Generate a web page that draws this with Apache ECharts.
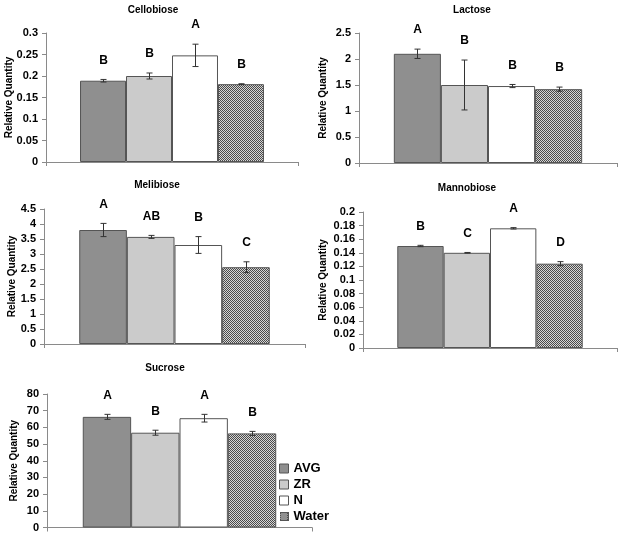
<!DOCTYPE html>
<html>
<head>
<meta charset="utf-8">
<script src="https://cdn.jsdelivr.net/npm/echarts@6/dist/echarts.min.js"></script>
<style>
html,body{margin:0;padding:0;background:#fff;}
#chart{width:619px;height:533px;}
</style>
</head>
<body>
<div id="chart"></div>
<script>
// ---- data ----
const groups = ['AVG', 'ZR', 'N', 'Water'];
const titles = ['Cellobiose', 'Lactose', 'Melibiose', 'Mannobiose', 'Sucrose'];

const cellobioseMeans = [0.189, 0.200, 0.248, 0.181];
const cellobioseErrs = [0.003, 0.007, 0.026, 0.001];
const cellobioseLetters = ['B', 'B', 'A', 'B'];

const lactoseMeans = [2.10, 1.50, 1.48, 1.42];
const lactoseErrs = [0.09, 0.48, 0.03, 0.04];
const lactoseLetters = ['A', 'B', 'B', 'B'];

const melibioseMeans = [3.80, 3.57, 3.30, 2.56];
const melibioseErrs = [0.22, 0.05, 0.28, 0.18];
const melibioseLetters = ['A', 'AB', 'B', 'C'];

const mannobioseMeans = [0.150, 0.140, 0.176, 0.124];
const mannobioseErrs = [0.001, 0.0005, 0.001, 0.003];
const mannobioseLetters = ['B', 'C', 'A', 'D'];

const sucroseMeans = [66.3, 56.8, 65.5, 56.4];
const sucroseErrs = [1.5, 1.5, 2.3, 1.2];
const sucroseLetters = ['A', 'B', 'A', 'B'];

const yMaxes = [0.3, 2.5, 4.5, 0.2, 80];
const yIntervals = [0.05, 0.5, 0.5, 0.02, 10];

// ---- layout / style ----
const panels = [
  {means: cellobioseMeans, errs: cellobioseErrs, letters: cellobioseLetters},
  {means: lactoseMeans, errs: lactoseErrs, letters: lactoseLetters},
  {means: melibioseMeans, errs: melibioseErrs, letters: melibioseLetters},
  {means: mannobioseMeans, errs: mannobioseErrs, letters: mannobioseLetters},
  {means: sucroseMeans, errs: sucroseErrs, letters: sucroseLetters}
];
const gridBoxes = [
  {left: 46, top: 33, width: 252, height: 129},
  {left: 359, top: 33, width: 258, height: 130},
  {left: 44, top: 209, width: 261, height: 135},
  {left: 363, top: 212, width: 254, height: 136},
  {left: 47, top: 394, width: 265, height: 135}
];
const titlePos = [
  {x: 148, y: 0}, {x: 467, y: 0}, {x: 152, y: 175}, {x: 462, y: 178}, {x: 160, y: 358}
];
const nameGaps = [32, 31, 27, 35, 28];
const catGap = 0.27;

const FONT = '"Liberation Sans", Arial, sans-serif';

// hatched pattern for Water
function makePattern(size, border) {
  const c = document.createElement('canvas');
  c.width = size; c.height = size;
  const ctx = c.getContext('2d');
  ctx.fillStyle = '#d6d6d6'; ctx.fillRect(0, 0, size, size);
  ctx.fillStyle = '#4a4a4a';
  for (let i = 0; i < size; i++) for (let j = 0; j < size; j++) if ((i + j) % 2 === 0) ctx.fillRect(i, j, 1, 1);
  if (border) { ctx.strokeStyle = '#555555'; ctx.lineWidth = 1; ctx.strokeRect(0.5, 0.5, size - 1, size - 1); }
  return c;
}
const pattern = {image: makePattern(2, false), repeat: 'repeat'};
const fills = ['#8f8f8f', '#cbcbcb', '#ffffff', pattern];
const waterIcon = 'image://' + makePattern(9, true).toDataURL();

const chart = echarts.init(document.getElementById('chart'), null, {renderer: 'canvas'});

const grids = [], xAxes = [], yAxes = [], series = [], titleComps = [];
panels.forEach((p, gi) => {
  grids.push(Object.assign({containLabel: false}, gridBoxes[gi]));
  titleComps.push({
    text: titles[gi], left: titlePos[gi].x, top: titlePos[gi].y, textAlign: 'center',
    textStyle: {fontFamily: FONT, fontSize: 10, fontWeight: 'bold', color: '#000'}
  });
  xAxes.push({
    type: 'category', gridIndex: gi, data: [''],
    axisLine: {lineStyle: {color: '#8a8a8a', width: 1}},
    axisTick: {show: true, length: 4, lineStyle: {color: '#8a8a8a'}},
    axisLabel: {show: false}
  });
  yAxes.push({
    type: 'value', gridIndex: gi, min: 0, max: yMaxes[gi], interval: yIntervals[gi],
    name: 'Relative Quantity', nameLocation: 'middle', nameGap: nameGaps[gi], nameRotate: 90,
    nameMoveOverlap: false,
    nameTextStyle: {fontFamily: FONT, fontSize: 10, fontWeight: 'bold', color: '#000'},
    axisLine: {show: true, lineStyle: {color: '#8a8a8a', width: 1}},
    axisTick: {show: true, length: 4, lineStyle: {color: '#8a8a8a'}},
    axisLabel: {fontFamily: FONT, fontSize: 11, fontWeight: 'bold', color: '#000', margin: 8},
    splitLine: {show: false}
  });
  groups.forEach((g, k) => {
    series.push({
      type: 'bar', name: g, xAxisIndex: gi, yAxisIndex: gi,
      data: [p.means[k]],
      barGap: '0%', barCategoryGap: (catGap * 100) + '%',
      itemStyle: {color: fills[k], borderColor: '#555555', borderWidth: 1},
      emphasis: {disabled: true},
      animation: false
    });
  });
  series.push({
    type: 'custom', xAxisIndex: gi, yAxisIndex: gi, silent: true, z: 10, animation: false,
    data: p.means.map((m, k) => [0, m, p.errs[k], k]),
    renderItem: function (params, api) {
      const k = api.value(3), m = api.value(1), e = api.value(2);
      const band = api.size([1, 0])[0];
      const cx = api.coord([0, 0])[0];
      const groupW = band * (1 - catGap);
      const bw = groupW / 4;
      const x = Math.round(cx - groupW / 2 + (k + 0.5) * bw) + 0.5;
      const yT = api.coord([0, m + e])[1];
      const yB = api.coord([0, m - e])[1];
      const ls = {stroke: '#333', lineWidth: 1};
      return {
        type: 'group',
        children: [
          {type: 'line', shape: {x1: x, y1: yT, x2: x, y2: yB}, style: ls},
          {type: 'line', shape: {x1: x - 3, y1: yT, x2: x + 3, y2: yT}, style: ls},
          {type: 'line', shape: {x1: x - 3, y1: yB, x2: x + 3, y2: yB}, style: ls},
          {type: 'text', style: {
            text: p.letters[params.dataIndex], x: x, y: yT - 19,
            align: 'center', verticalAlign: 'middle',
            fill: '#000', font: 'bold 12px ' + FONT
          }}
        ]
      };
    }
  });
});

chart.setOption({
  animation: false,
  title: titleComps,
  grid: grids,
  xAxis: xAxes,
  yAxis: yAxes,
  legend: {
    data: groups.map((g, k) => k === 3
      ? {name: g, icon: waterIcon}
      : {name: g, itemStyle: {color: fills[k], borderColor: '#555555', borderWidth: 1}}),
    orient: 'vertical', left: 279, top: 461, padding: 0,
    icon: 'rect', itemWidth: 9, itemHeight: 9, itemGap: 1,
    selectedMode: false,
    textStyle: {fontFamily: FONT, fontSize: 13, fontWeight: 'bold', color: '#000', lineHeight: 15}
  },
  series: series
});
</script>
</body>
</html>
